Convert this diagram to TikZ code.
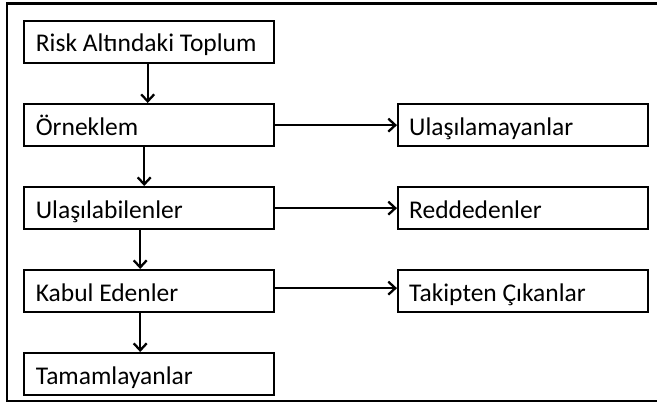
\documentclass[tikz,border=0pt]{standalone}
\usepackage{fontspec}
\setmainfont{Carlito}
\usetikzlibrary{arrows.meta}
\newcommand{\lbox}[2]{\makebox[#1][l]{#2}}
\begin{document}
\begin{tikzpicture}[x=1pt,y=-1pt,
  boxl/.style={draw, line width=2.3pt, anchor=north west, minimum width=250pt, minimum height=42pt,
    inner xsep=12pt, inner ysep=0pt, text height=20pt, text depth=0pt,
    font=\fontsize{25.5pt}{30pt}\selectfont},
  boxr/.style={boxl, inner xsep=11pt},
  arr/.style={line width=2.3pt, -{Straight Barb[length=7pt,width=13pt,line width=2.3pt]}}]
\useasboundingbox (0,0) rectangle (657,405);
\draw[line width=2.8pt] (7,3.8) rectangle (664,401);
\node[boxl] (b1) at (22.7,19.5) {\lbox{226pt}{Risk Altındaki Toplum}};
\node[boxl] (b2) at (22.7,103) {\lbox{226pt}{Örneklem}};
\node[boxl] (b3) at (22.7,186) {\lbox{226pt}{Ulaşılabilenler}};
\node[boxl] (b4) at (22.7,269) {\lbox{226pt}{Kabul Edenler}};
\node[boxl] (b5) at (22.7,352) {\lbox{226pt}{Tamamlayanlar}};
\node[boxr] (r1) at (397,103) {\lbox{228pt}{Ulaşılamayanlar}};
\node[boxr] (r2) at (397,186) {\lbox{228pt}{Reddedenler}};
\node[boxr] (r3) at (397,269) {\lbox{228pt}{Takipten Çıkanlar}};
\draw[arr] ([xshift=125pt]b1.south west) -- ([xshift=125pt]b2.north west);
\draw[arr] ([xshift=121.5pt]b2.south west) -- ([xshift=121.5pt]b3.north west);
\draw[arr] ([xshift=117.5pt]b3.south west) -- ([xshift=117.5pt]b4.north west);
\draw[arr] ([xshift=117.5pt]b4.south west) -- ([xshift=117.5pt]b5.north west);
\draw[arr] (b2.east) -- (r1.west);
\draw[arr] (b3.east) -- (r2.west);
\draw[arr] ([yshift=3pt]b4.east) -- ([yshift=3pt]r3.west);
\end{tikzpicture}
\end{document}
